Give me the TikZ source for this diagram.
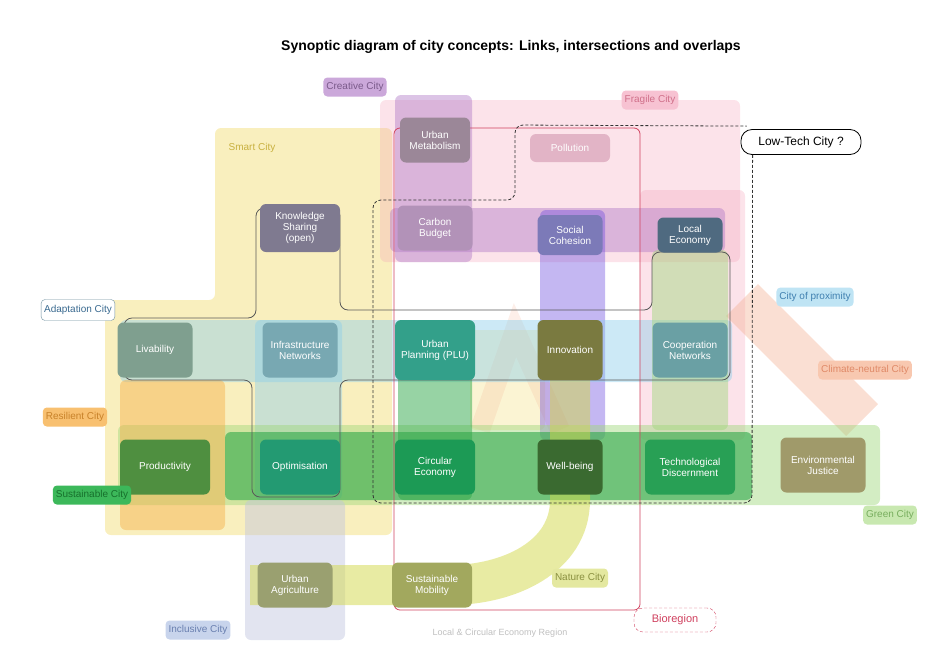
\documentclass[tikz,border=0pt]{standalone}
\usepackage{fontspec}
\setmainfont{Liberation Sans}
\usepackage{xcolor}
\usetikzlibrary{positioning}

\definecolor{smart}{HTML}{F2DC6E}
\definecolor{creative}{HTML}{B27CC8}
\definecolor{fragile}{HTML}{F4A2B8}
\definecolor{proxim}{HTML}{8ECFEA}
\definecolor{greenc}{HTML}{9ED67A}
\definecolor{sustain}{HTML}{2FA84A}
\definecolor{resil}{HTML}{F5AE48}
\definecolor{inclus}{HTML}{BFC4DE}
\definecolor{nature}{HTML}{D2D848}
\definecolor{climate}{HTML}{F3AE90}
\definecolor{bioreg}{HTML}{D0405E}
% concept fills
\definecolor{cMetab}{HTML}{9B8798}
\definecolor{cPollu}{HTML}{E2B4C6}
\definecolor{cKnowl}{HTML}{7F7A90}
\definecolor{cCarbon}{HTML}{B292B8}
\definecolor{cSocial}{HTML}{7C7AB8}
\definecolor{cLocal}{HTML}{4F6A80}
\definecolor{cLivab}{HTML}{7F9F8F}
\definecolor{cInfra}{HTML}{78A8B2}
\definecolor{cPlan}{HTML}{33A08A}
\definecolor{cInnov}{HTML}{7A7A40}
\definecolor{cGover}{HTML}{6AA0A4}
\definecolor{cProdu}{HTML}{4F8F40}
\definecolor{cOptim}{HTML}{239A72}
\definecolor{cCirc}{HTML}{1C9A55}
\definecolor{cWell}{HTML}{3A6A30}
\definecolor{cTechno}{HTML}{28A055}
\definecolor{cEnvir}{HTML}{A09A6A}
\definecolor{cAgri}{HTML}{9AA070}
\definecolor{cMobil}{HTML}{A2A85E}
% label colours
\definecolor{lCreaF}{HTML}{CBA8DA}\definecolor{lCreaT}{HTML}{7A5A8A}
\definecolor{lFragF}{HTML}{F7C2D2}\definecolor{lFragT}{HTML}{D0708A}
\definecolor{lSmartT}{HTML}{C8B040}
\definecolor{lAdaD}{HTML}{7090A0}\definecolor{lAdaT}{HTML}{3A6A90}
\definecolor{lProxF}{HTML}{BFE4F4}\definecolor{lProxT}{HTML}{4080B0}
\definecolor{lClimF}{HTML}{F8C8B0}\definecolor{lClimT}{HTML}{E08A68}
\definecolor{lResF}{HTML}{F8C070}\definecolor{lResT}{HTML}{C8822A}
\definecolor{lSusF}{HTML}{3CB85A}\definecolor{lSusT}{HTML}{17702C}
\definecolor{lGreF}{HTML}{C8E8B0}\definecolor{lGreT}{HTML}{78AE5E}
\definecolor{lIncF}{HTML}{C8D4EC}\definecolor{lIncT}{HTML}{6A80B0}
\definecolor{lNatF}{HTML}{E4E8A0}\definecolor{lNatT}{HTML}{8A9040}

\begin{document}
\begin{tikzpicture}[x=1pt, y=-1pt,
  concept/.style={rounded corners=6pt, text=white, align=center, inner sep=2pt, font=\fontsize{10}{11}\selectfont},
  city/.style={rounded corners=4pt, align=center, inner sep=3pt, minimum height=19pt, font=\fontsize{10}{11}\selectfont},
  band/.style={draw=none, fill opacity=0.45, rounded corners=6pt}]
\useasboundingbox (0,0) rectangle (928,646);
\node[font=\bfseries\fontsize{14}{16}\selectfont] (title) at (511,47) {Synoptic diagram of city concepts: Links, intersections and overlaps};

% bands
\fill[band, smart] (215,128) -- (392,128) -- (392,535) -- (105,535) -- (105,300) -- (215,300) -- cycle;
\fill[band, smart, fill opacity=0.3] (470,330) rectangle (545,430);
\fill[band, fragile, fill opacity=0.3] (380,100) rectangle (740,262);
\fill[band, fragile, fill opacity=0.3] (640,190) rectangle (745,440);
\draw[climate, line width=45pt, opacity=0.4] (742,300) -- (862,420);
\draw[climate, line width=20pt, opacity=0.2] (480,430) -- (515,330) -- (560,430);
\fill[band, creative] (395,95) rectangle (472,262);
\fill[band, creative] (390,208) rectangle (725,252);
\fill[band, creative!60!blue, fill opacity=0.4] (540,210) rectangle (605,440);
\fill[band, proxim] (120,320) rectangle (732,382);
\fill[band, proxim] (255,320) rectangle (342,500);
\fill[band, greenc] (652,250) rectangle (728,430);
\fill[band, greenc] (118,425) rectangle (880,505);
\fill[band, resil] (120,380) rectangle (225,530);
\fill[band, sustain, fill opacity=0.5] (398,320) rectangle (472,500);
\fill[band, sustain, fill opacity=0.6] (225,432) rectangle (752,500);
\fill[band, inclus] (245,500) rectangle (345,640);
\draw[nature, line width=40pt, opacity=0.5] (250,585) -- (450,585) to[out=0, in=-90] (570,500) -- (570,380);

% outlines
\draw[black!65, line width=0.8pt, rounded corners=8pt] (124,318) -- (256,318) -- (256,208) -- (340,208) -- (340,310) -- (652,310) -- (652,252) -- (730,252) -- (730,380) -- (340,380) -- (340,497) -- (252,497) -- (252,380) -- (124,380) -- cycle;
\draw[bioreg, line width=0.8pt, rounded corners=6pt] (394,128) rectangle (640,610);

% concepts
\node[concept, fill=cMetab, minimum width=70pt, minimum height=45pt] (metab) at (435,140) {Urban\\Metabolism};
\node[concept, fill=cPollu, minimum width=80pt, minimum height=28pt] (pollu) at (570,148) {Pollution};
\node[concept, fill=cKnowl, minimum width=80pt, minimum height=48pt] (knowl) at (300,228) {Knowledge\\Sharing\\(open)};
\node[concept, fill=cCarbon, minimum width=75pt, minimum height=45pt] (carbon) at (435,228) {Carbon\\Budget};
\node[concept, fill=cSocial, minimum width=65pt, minimum height=40pt] (social) at (570,235) {Social\\Cohesion};
\node[concept, fill=cLocal, minimum width=65pt, minimum height=35pt] (local) at (690,235) {Local\\Economy};
\node[concept, fill=cLivab, minimum width=75pt, minimum height=55pt] (livab) at (155,350) {Livability};
\node[concept, fill=cInfra, minimum width=75pt, minimum height=55pt] (infra) at (300,350) {Infrastructure\\Networks};
\node[concept, fill=cPlan, minimum width=80pt, minimum height=60pt] (plan) at (435,350) {Urban\\Planning (PLU)};
\node[concept, fill=cInnov, minimum width=65pt, minimum height=60pt] (innov) at (570,350) {Innovation};
\node[concept, fill=cGover, minimum width=75pt, minimum height=55pt] (gover) at (690,350) {Cooperation\\Networks};
\node[concept, fill=cProdu, minimum width=90pt, minimum height=55pt] (produ) at (165,467) {Productivity};
\node[concept, fill=cOptim, minimum width=80pt, minimum height=55pt] (optim) at (300,467) {Optimisation};
\node[concept, fill=cCirc, minimum width=80pt, minimum height=55pt] (circ) at (435,467) {Circular\\Economy};
\node[concept, fill=cWell, minimum width=65pt, minimum height=55pt] (well) at (570,467) {Well-being};
\node[concept, fill=cTechno, minimum width=90pt, minimum height=55pt] (techno) at (690,467) {Technological\\Discernment};
\node[concept, fill=cEnvir, minimum width=85pt, minimum height=55pt] (envir) at (823,465) {Environmental\\Justice};
\node[concept, fill=cAgri, minimum width=75pt, minimum height=45pt] (agri) at (295,585) {Urban\\Agriculture};
\node[concept, fill=cMobil, minimum width=80pt, minimum height=45pt] (mobil) at (432,585) {Sustainable\\Mobility};

% city labels
\node[city, fill=lCreaF, text=lCreaT] (creative) at (355,87) {Creative City};
\node[city, fill=lFragF, text=lFragT] (fragile) at (650,100) {Fragile City};
\node[text=lSmartT, font=\fontsize{10}{11}\selectfont] (smart) at (252,148) {Smart City};
\node[city, draw=black, line width=0.8pt, fill=white, rounded corners=11pt, minimum width=120pt, minimum height=25pt, font=\fontsize{12}{13}\selectfont] (lowtech) at (801,142) {Low-Tech City ?};
\node[city, draw=lAdaD, fill=white, text=lAdaT, minimum height=21pt] (adapt) at (78,310) {Adaptation City};
\node[city, fill=lProxF, text=lProxT] (proximity) at (815,297) {City of proximity};
\node[city, fill=lClimF, text=lClimT] (climate) at (865,370) {Climate-neutral City};
\node[city, fill=lResF, text=lResT] (resilient) at (75,417) {Resilient City};
\node[city, fill=lSusF, text=lSusT] (sustain) at (92,495) {Sustainable City};
\node[city, fill=lGreF, text=lGreT] (greencity) at (890,515) {Green City};
\node[city, fill=lIncF, text=lIncT] (inclusive) at (198,630) {Inclusive City};
\node[text=black!25, font=\fontsize{9}{10}\selectfont] (region) at (500,633) {Local \& Circular Economy Region};
\node[city, fill=lNatF, text=lNatT] (nature) at (580,578) {Nature City};
\node[city, draw=bioreg, densely dashed, fill=white, text=bioreg, rounded corners=9pt, minimum width=82pt, minimum height=24pt, font=\fontsize{11}{12}\selectfont] (bioregion) at (675,620) {Bioregion};

% low-tech perimeter
\draw[black!80, densely dashed, line width=0.8pt, rounded corners=8pt] ([xshift=12pt]lowtech.south west) -- (752,503) -- (373,503) -- (373,200) -- (515,200) -- (515,125) -- ([xshift=6pt, yshift=3pt]lowtech.north west);
\end{tikzpicture}
\end{document}
